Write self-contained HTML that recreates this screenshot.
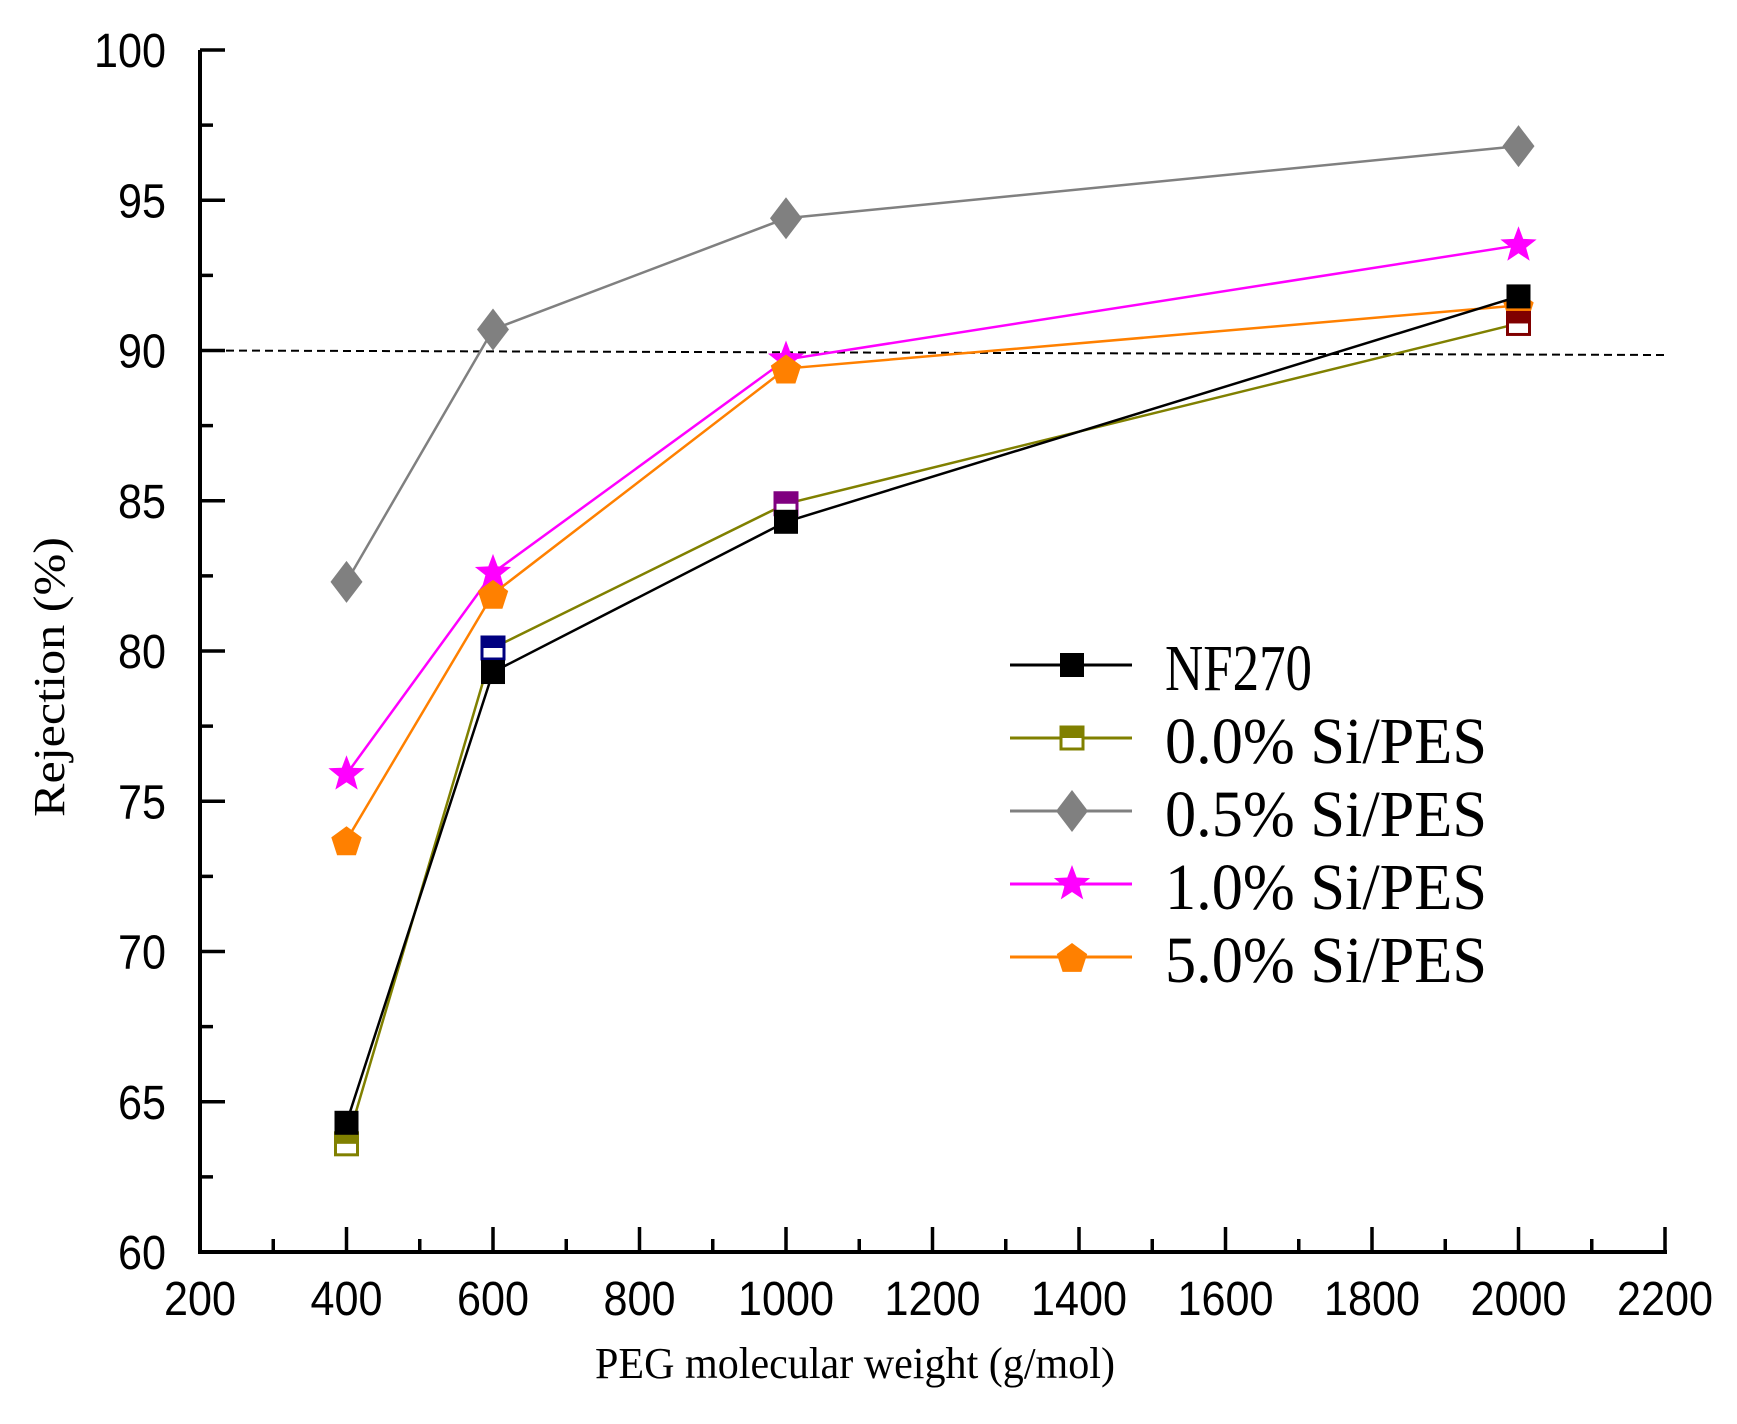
<!DOCTYPE html>
<html><head><meta charset="utf-8"><style>html,body{margin:0;padding:0;background:#fff}svg{display:block}</style></head>
<body>
<svg id="chart" width="1737" height="1424" viewBox="0 0 1737 1424" xmlns="http://www.w3.org/2000/svg">
<g id="axes"></g>
<g id="series"></g>
<g id="legend"></g>
<text transform="translate(64,677) rotate(-90)" text-anchor="middle" font-family="Liberation Serif, serif" font-size="44" textLength="280" lengthAdjust="spacingAndGlyphs">Rejection (%)</text>
<text x="855" y="1378" text-anchor="middle" font-family="Liberation Serif, serif" font-size="44" textLength="520" lengthAdjust="spacingAndGlyphs">PEG molecular weight (g/mol)</text>
</svg>
<script>
const xCats = [400, 600, 1000, 2000];
const nf270 = [64.3, 79.3, 84.3, 91.8];
const si00 = [63.6, 80.1, 84.9, 90.9];
const si05 = [82.3, 90.7, 94.4, 96.8];
const si10 = [75.9, 82.6, 89.7, 93.5];
const si50 = [73.7, 81.9, 89.4, 91.5];
const refLine = [90.0, 89.85];
const xTicks = [200,400,600,800,1000,1200,1400,1600,1800,2000,2200];
const yTicks = [60,65,70,75,80,85,90,95,100];
const seriesNames = ["NF270","0.0% Si/PES","0.5% Si/PES","1.0% Si/PES","5.0% Si/PES"];

const NS="http://www.w3.org/2000/svg";
const X0=200,X1=1665,Y0=1252,Y1=50;
function sx(v){return X0+(v-200)/2000*(X1-X0);}
function sy(v){return Y0-(v-60)/40*(Y0-Y1);}
function mk(tag,attrs,parent){const e=document.createElementNS(NS,tag);for(const k in attrs)e.setAttribute(k,attrs[k]);parent.appendChild(e);return e;}
const axes=document.getElementById('axes'),ser=document.getElementById('series'),leg=document.getElementById('legend');

let a=mk('line',{x1:X0,y1:Y0,x2:X1+2,y2:Y0,stroke:'#000','stroke-width':4},axes);


a=mk('line',{x1:X0,y1:Y0+2,x2:X0,y2:Y1,stroke:'#000','stroke-width':4},axes);



xTicks.forEach((v,i)=>{
  const x=sx(v);
  const t=mk('line',{x1:x,y1:Y0,x2:x,y2:Y0-25,stroke:'#000','stroke-width':3.5},axes);
  
  
  if(i<xTicks.length-1){const xm=x+(sx(xTicks[1])-sx(xTicks[0]))/2;const m=mk('line',{x1:xm,y1:Y0,x2:xm,y2:Y0-13,stroke:'#000','stroke-width':3.5},axes);
  
  }
  const l=mk('text',{x:x,y:Y0+63,'text-anchor':'middle','font-family':'Liberation Sans, sans-serif','font-size':48,textLength:String(v).length*24,lengthAdjust:'spacingAndGlyphs'},axes);
  l.textContent=v;
  
  
});
yTicks.forEach((v,i)=>{
  const y=sy(v);
  const t=mk('line',{x1:X0,y1:y,x2:X0+25,y2:y,stroke:'#000','stroke-width':3.5},axes);
  
  
  if(i<yTicks.length-1){const ym=sy(v+2.5);const m=mk('line',{x1:X0,y1:ym,x2:X0+13,y2:ym,stroke:'#000','stroke-width':3.5},axes);
  
  }
  const l=mk('text',{x:166,y:y+17,'text-anchor':'end','font-family':'Liberation Sans, sans-serif','font-size':48,textLength:String(v).length*24,lengthAdjust:'spacingAndGlyphs'},axes);
  l.textContent=v;
  
  
});

const rl=mk('line',{x1:X0,y1:sy(refLine[0]),x2:X1,y2:sy(refLine[1]),stroke:'#000','stroke-width':2,'stroke-dasharray':'8,5'},ser);



function marker(type,x,y,color,parent){
  const g=mk('g',{},parent);
  if(type==='sq'){mk('rect',{x:x-12,y:y-12,width:24,height:24,fill:color},g);}
  else if(type==='half'){mk('rect',{x:x-11,y:y-11,width:22,height:22,fill:'#fff',stroke:color,'stroke-width':3},g);mk('rect',{x:x-12,y:y-12,width:24,height:12,fill:color},g);}
  else if(type==='dia'){mk('polygon',{points:`${x},${y-21} ${x+16},${y} ${x},${y+21} ${x-16},${y}`,fill:color},g);}
  else if(type==='star'){let p=[];for(let k=0;k<10;k++){const r=k%2?8:19,an=-Math.PI/2+k*Math.PI/5;p.push((x+r*Math.cos(an)).toFixed(1)+','+(y+r*Math.sin(an)).toFixed(1));}mk('polygon',{points:p.join(' '),fill:color},g);}
  else if(type==='pent'){let p=[];for(let k=0;k<5;k++){const an=-Math.PI/2+k*2*Math.PI/5;p.push((x+16*Math.cos(an)).toFixed(1)+','+(y+2+16*Math.sin(an)).toFixed(1));}mk('polygon',{points:p.join(' '),fill:color},g);}
  return g;
}
const defs=[
 {name:'nf270',data:nf270,color:'#000',type:'sq'},
 {name:'si-0-0',data:si00,color:'#808000',type:'half',pc:['#808000','#000080','#800080','#800000']},
 {name:'si-0-5',data:si05,color:'#808080',type:'dia'},
 {name:'si-1-0',data:si10,color:'#ff00ff',type:'star'},
 {name:'si-5-0',data:si50,color:'#ff8000',type:'pent'}
];
[2,3,4,1,0].forEach(idx=>{
  const d=defs[idx];
  const pl=mk('polyline',{points:d.data.map((v,i)=>sx(xCats[i])+','+sy(v)).join(' '),fill:'none',stroke:d.color,'stroke-width':2.5},ser);
  
  
  d.data.forEach((v,i)=>{
    const m=marker(d.type,sx(xCats[i]),sy(v),d.pc?d.pc[i]:d.color,ser);
    
    
  });
});
defs.forEach((d,i)=>{
  const y=665+i*73;
  const g=mk('g',{},leg);
  
  
  mk('line',{x1:1010,y1:y,x2:1132,y2:y,stroke:d.color,'stroke-width':3},g);
  marker(d.type,1072,y,d.color,g);
  const t=mk('text',{x:1165,y:y+25,'font-family':'Liberation Serif, serif','font-size':66,textLength:i===0?147:322,lengthAdjust:'spacingAndGlyphs'},g);
  t.textContent=seriesNames[i];
});
</script>
</body></html>
